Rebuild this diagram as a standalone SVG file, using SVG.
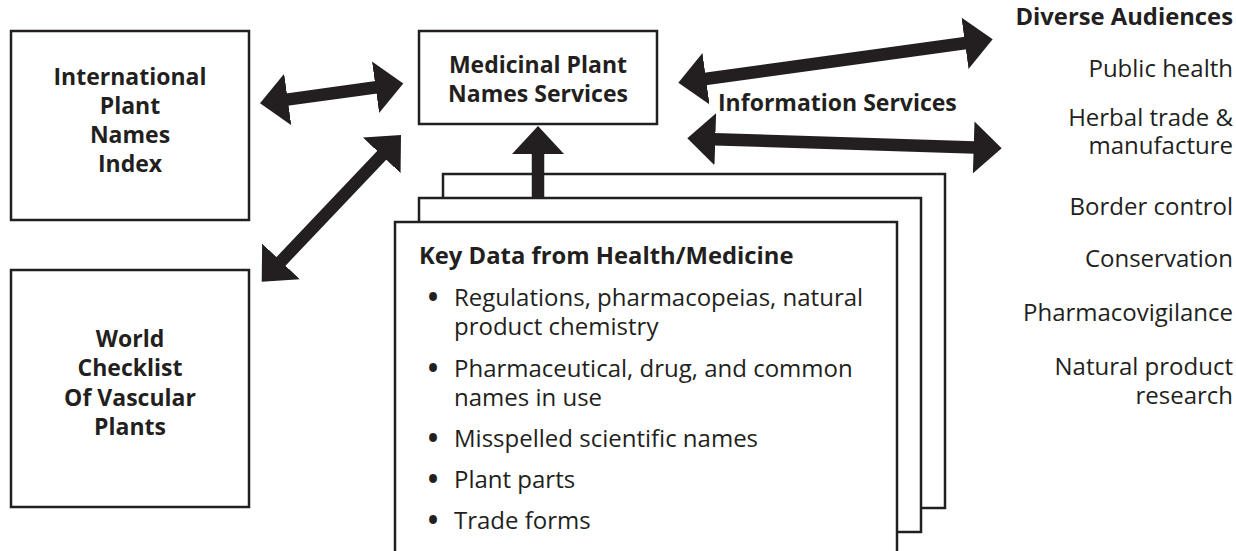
<svg xmlns="http://www.w3.org/2000/svg" width="1236" height="551" viewBox="0 0 1236 551">
  <style>
    .box { fill: #ffffff; stroke: #231f20; stroke-width: 2.5; }
    .page { fill: #ffffff; stroke: #231f20; stroke-width: 2.5; }
    .shaft { fill: none; stroke: #231f20; stroke-width: 12.5; }
    .b { font-family: "Open Sans", "Liberation Sans", sans-serif; font-weight: 700; font-size: 23px; fill: #231f20; }
    .h { font-size: 23.8px; }
    .r { font-family: "Open Sans", "Liberation Sans", sans-serif; font-weight: 400; font-size: 24px; fill: #231f20; }
    .dot { font-weight: 700; font-size: 28px; }
    .c { text-anchor: middle; }
    .e { text-anchor: end; }
  </style>
  <defs>
    <!-- solid triangular arrowhead, base at the line end -->
    <marker id="head" viewBox="0 -27 29 54" refX="1" refY="0" markerWidth="29" markerHeight="54"
            markerUnits="userSpaceOnUse" orient="auto-start-reverse">
      <path d="M0,-26 L28,0 L0,26 Z" fill="#231f20"/>
    </marker>
  </defs>

  <rect width="1236" height="551" fill="#ffffff"/>

  <!-- International Plant Names Index -->
  <g id="ipni">
    <rect class="box" x="11" y="31" width="238" height="189"/>
    <text class="b c" x="130" y="85">International</text>
    <text class="b c" x="130" y="114">Plant</text>
    <text class="b c" x="130" y="143">Names</text>
    <text class="b c" x="130" y="172">Index</text>
  </g>

  <!-- World Checklist of Vascular Plants -->
  <g id="wcvp">
    <rect class="box" x="11" y="270" width="238" height="237"/>
    <text class="b c" x="130" y="347">World</text>
    <text class="b c" x="130" y="376">Checklist</text>
    <text class="b c" x="130" y="406">Of Vascular</text>
    <text class="b c" x="130" y="435">Plants</text>
  </g>

  <!-- Medicinal Plant Names Services -->
  <g id="mpns">
    <rect class="box" x="419" y="31" width="238" height="93"/>
    <text class="b c" x="538" y="73">Medicinal Plant</text>
    <text class="b c" x="538" y="102">Names Services</text>
  </g>

  <!-- stacked pages of source data -->
  <g id="key-data">
    <rect class="page" x="443" y="174" width="502" height="334"/>
    <rect class="page" x="419" y="198" width="502" height="334"/>
    <rect class="page" x="395" y="222" width="502" height="340"/>
    <text class="b h" x="419" y="264">Key Data from Health/Medicine</text>
    <g class="r">
      <text x="433" y="307" class="c dot">•</text>
      <text x="454" y="306">Regulations, pharmacopeias, natural</text>
      <text x="454" y="335">product chemistry</text>
      <text x="433" y="378" class="c dot">•</text>
      <text x="454" y="377">Pharmaceutical, drug, and common</text>
      <text x="454" y="406">names in use</text>
      <text x="433" y="448" class="c dot">•</text>
      <text x="454" y="447">Misspelled scientific names</text>
      <text x="433" y="489" class="c dot">•</text>
      <text x="454" y="488">Plant parts</text>
      <text x="433" y="530" class="c dot">•</text>
      <text x="454" y="529">Trade forms</text>
    </g>
  </g>

  <!-- audiences served -->
  <g id="audiences">
    <text class="b h e" x="1233" y="25">Diverse Audiences</text>
    <text class="r e" x="1233" y="77">Public health</text>
    <text class="r e" x="1233" y="126">Herbal trade &amp;</text>
    <text class="r e" x="1233" y="154">manufacture</text>
    <text class="r e" x="1233" y="215">Border control</text>
    <text class="r e" x="1233" y="267">Conservation</text>
    <text class="r e" x="1233" y="321">Pharmacovigilance</text>
    <text class="r e" x="1233" y="375">Natural product</text>
    <text class="r e" x="1233" y="404">research</text>
  </g>

  <g id="info-label">
    <text class="b" x="718" y="111">Information Services</text>
  </g>

  <!-- connectors -->
  <g id="connectors">
    <line class="shaft" x1="286.75" y1="99.6" x2="376.55" y2="87.2" marker-start="url(#head)" marker-end="url(#head)"/>
    <line class="shaft" x1="280.3" y1="262.1" x2="382.4" y2="154.6" marker-start="url(#head)" marker-end="url(#head)"/>
    <line class="shaft" x1="705.05" y1="79.0" x2="965.95" y2="43.0" marker-start="url(#head)" marker-end="url(#head)"/>
    <line class="shaft" x1="714.3" y1="139.2" x2="974.7" y2="147.4" marker-start="url(#head)" marker-end="url(#head)"/>
    <line class="shaft" x1="538" y1="198" x2="538" y2="153" marker-end="url(#head)"/>
  </g>
</svg>
